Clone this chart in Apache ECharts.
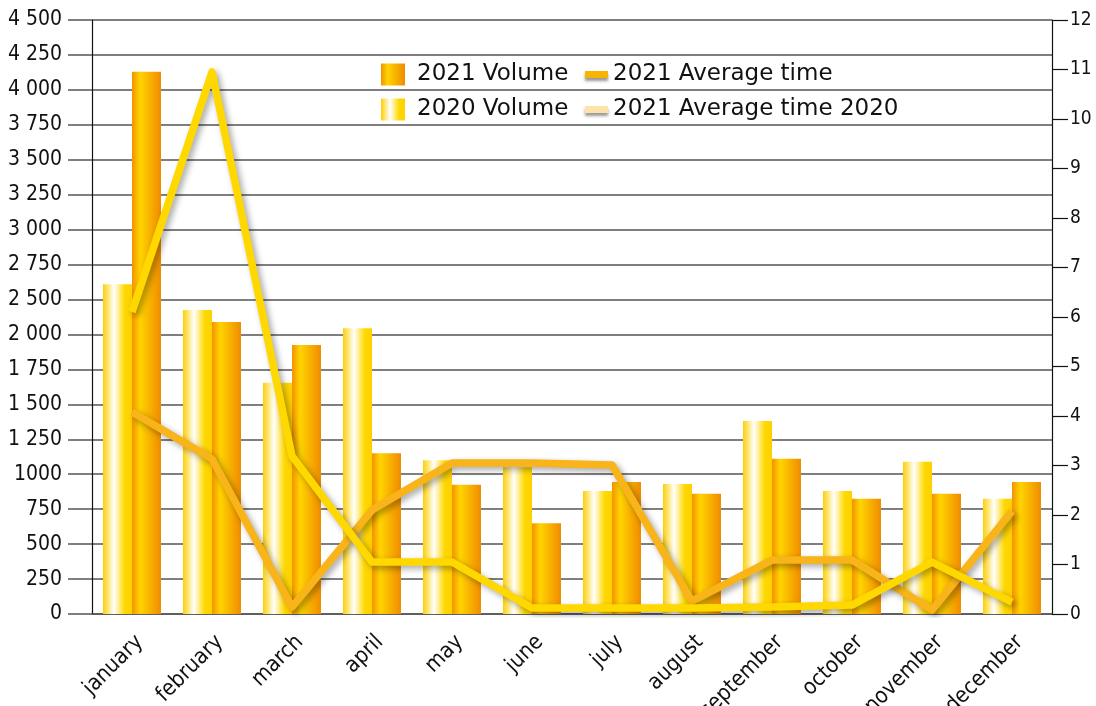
<!DOCTYPE html>
<html>
<head>
<meta charset="utf-8">
<title>Volume and average time by month</title>
<script src="https://cdn.jsdelivr.net/npm/echarts@6/dist/echarts.min.js"></script>
<style>
  html, body { margin: 0; padding: 0; background: #fff; }
  #chart { width: 1096px; height: 706px; }
</style>
</head>
<body>
<div id="chart"></div>
<script>
const months = ['january', 'february', 'march', 'april', 'may', 'june', 'july', 'august', 'september', 'october', 'november', 'december']
// volumes in left-axis units (the printed scale skips 2 250)
const volume2020 = [2360, 2175, 1655, 2045, 1100, 1050, 880, 930, 1380, 880, 1090, 825]
const volume2021 = [3880, 2090, 1925, 1150, 925, 650, 945, 860, 1110, 825, 860, 945]
const avgTime2021 = [4.08, 3.13, 0.14, 2.1, 3.05, 3.05, 3.01, 0.26, 1.09, 1.09, 0.08, 2.08]
const avgTime2020 = [6.1, 10.95, 3.19, 1.05, 1.05, 0.12, 0.12, 0.12, 0.14, 0.18, 1.05, 0.24]
const volumeTickLabels = ['0', '250', '500', '750', '1000', '1 250', '1 500', '1 750', '2 000', '2 500', '2 750', '3 000', '3 250', '3 500', '3 750', '4 000', '4 250', '4 500']

const condensed = "'DejaVu Sans Condensed', 'Liberation Sans Narrow', 'DejaVu Sans', sans-serif"
const gridLine = { color: '#555', width: 1.5 }

const fill2020 = new echarts.graphic.LinearGradient(0, 0, 1, 0, [
  { offset: 0, color: '#ffd000' },
  { offset: 0.38, color: '#ffffff' },
  { offset: 0.75, color: '#ffd800' },
  { offset: 1, color: '#ffd000' },
])
const fill2021 = new echarts.graphic.LinearGradient(0, 0, 1, 0, [
  { offset: 0, color: '#f39200' },
  { offset: 0.28, color: '#ffd400' },
  { offset: 0.85, color: '#f39a00' },
  { offset: 1, color: '#ef8c00' },
])

const lineShadow = {
  shadowColor: 'rgba(0, 0, 0, 0.35)',
  shadowBlur: 6,
  shadowOffsetX: 3,
  shadowOffsetY: 3,
}

const chart = echarts.init(document.getElementById('chart'))
chart.setOption({
  animation: false,
  backgroundColor: '#fff',
  grid: { left: 92, right: 44, top: 20, bottom: 92, containLabel: false, outerBoundsMode: 'none' },
  legend: [
    {
      left: 381,
      top: 63,
      padding: 0,
      orient: 'vertical',
      icon: 'rect',
      itemWidth: 24,
      itemHeight: 22,
      itemGap: 12,
      textStyle: { fontFamily: 'DejaVu Sans', fontSize: 23, color: '#111', lineHeight: 22, padding: [0, 0, 0, 7] },
      data: ['2021 Volume', '2020 Volume'],
    },
    {
      left: 585,
      top: 63,
      padding: 0,
      orient: 'vertical',
      icon: 'rect',
      itemWidth: 23,
      itemHeight: 7,
      itemGap: 12,
      textStyle: { fontFamily: 'DejaVu Sans', fontSize: 23, color: '#111', lineHeight: 22 },
      data: [
        { name: '2021 Average time', itemStyle: { color: '#f8b400', shadowColor: 'rgba(0,0,0,0.4)', shadowBlur: 3, shadowOffsetY: 3 } },
        { name: '2021 Average time 2020', itemStyle: { color: '#fee2a8', shadowColor: 'rgba(0,0,0,0.4)', shadowBlur: 3, shadowOffsetY: 3 } },
      ],
    },
  ],
  xAxis: {
    type: 'category',
    data: months,
    axisLine: { lineStyle: gridLine },
    axisTick: { length: 20, lineStyle: { color: '#111', width: 1.2 } },
    axisLabel: { rotate: 45, margin: 17, verticalAlign: 'top', fontFamily: condensed, fontSize: 22, color: '#111' },
  },
  yAxis: [
    {
      type: 'value',
      min: 0,
      max: 4250,
      interval: 250,
      axisLine: { show: true, lineStyle: { color: '#111', width: 1.2 } },
      axisTick: { show: true, length: 24, lineStyle: gridLine },
      splitLine: { lineStyle: gridLine },
      axisLabel: {
        margin: 30,
        fontFamily: condensed,
        fontSize: 21,
        color: '#111',
        formatter: v => volumeTickLabels[Math.round(v / 250)],
      },
    },
    {
      type: 'value',
      min: 0,
      max: 12,
      interval: 1,
      position: 'right',
      axisLine: { show: true, lineStyle: { color: '#111', width: 1.2 } },
      axisTick: { show: true, length: 16, lineStyle: { color: '#111', width: 1.2 } },
      splitLine: { show: false },
      axisLabel: { margin: 18, fontFamily: condensed, fontSize: 19, color: '#111' },
    },
  ],
  series: [
    {
      name: '2020 Volume',
      type: 'bar',
      data: volume2020,
      barWidth: 29,
      barGap: '0%',
      itemStyle: { color: fill2020 },
    },
    {
      name: '2021 Volume',
      type: 'bar',
      data: volume2021,
      barWidth: 29,
      barGap: '0%',
      itemStyle: { color: fill2021 },
    },
    {
      name: '2021 Average time',
      type: 'line',
      yAxisIndex: 1,
      data: avgTime2021,
      showSymbol: false,
      itemStyle: { color: '#f8b418' },
      lineStyle: Object.assign({ color: '#f8b418', width: 7.5, join: 'round' }, lineShadow),
      z: 3,
    },
    {
      name: '2021 Average time 2020',
      type: 'line',
      yAxisIndex: 1,
      data: avgTime2020,
      showSymbol: false,
      itemStyle: { color: '#ffd800' },
      lineStyle: Object.assign({ color: '#ffd800', width: 7.5, join: 'round' }, lineShadow),
      z: 4,
    },
  ],
})
</script>
</body>
</html>
